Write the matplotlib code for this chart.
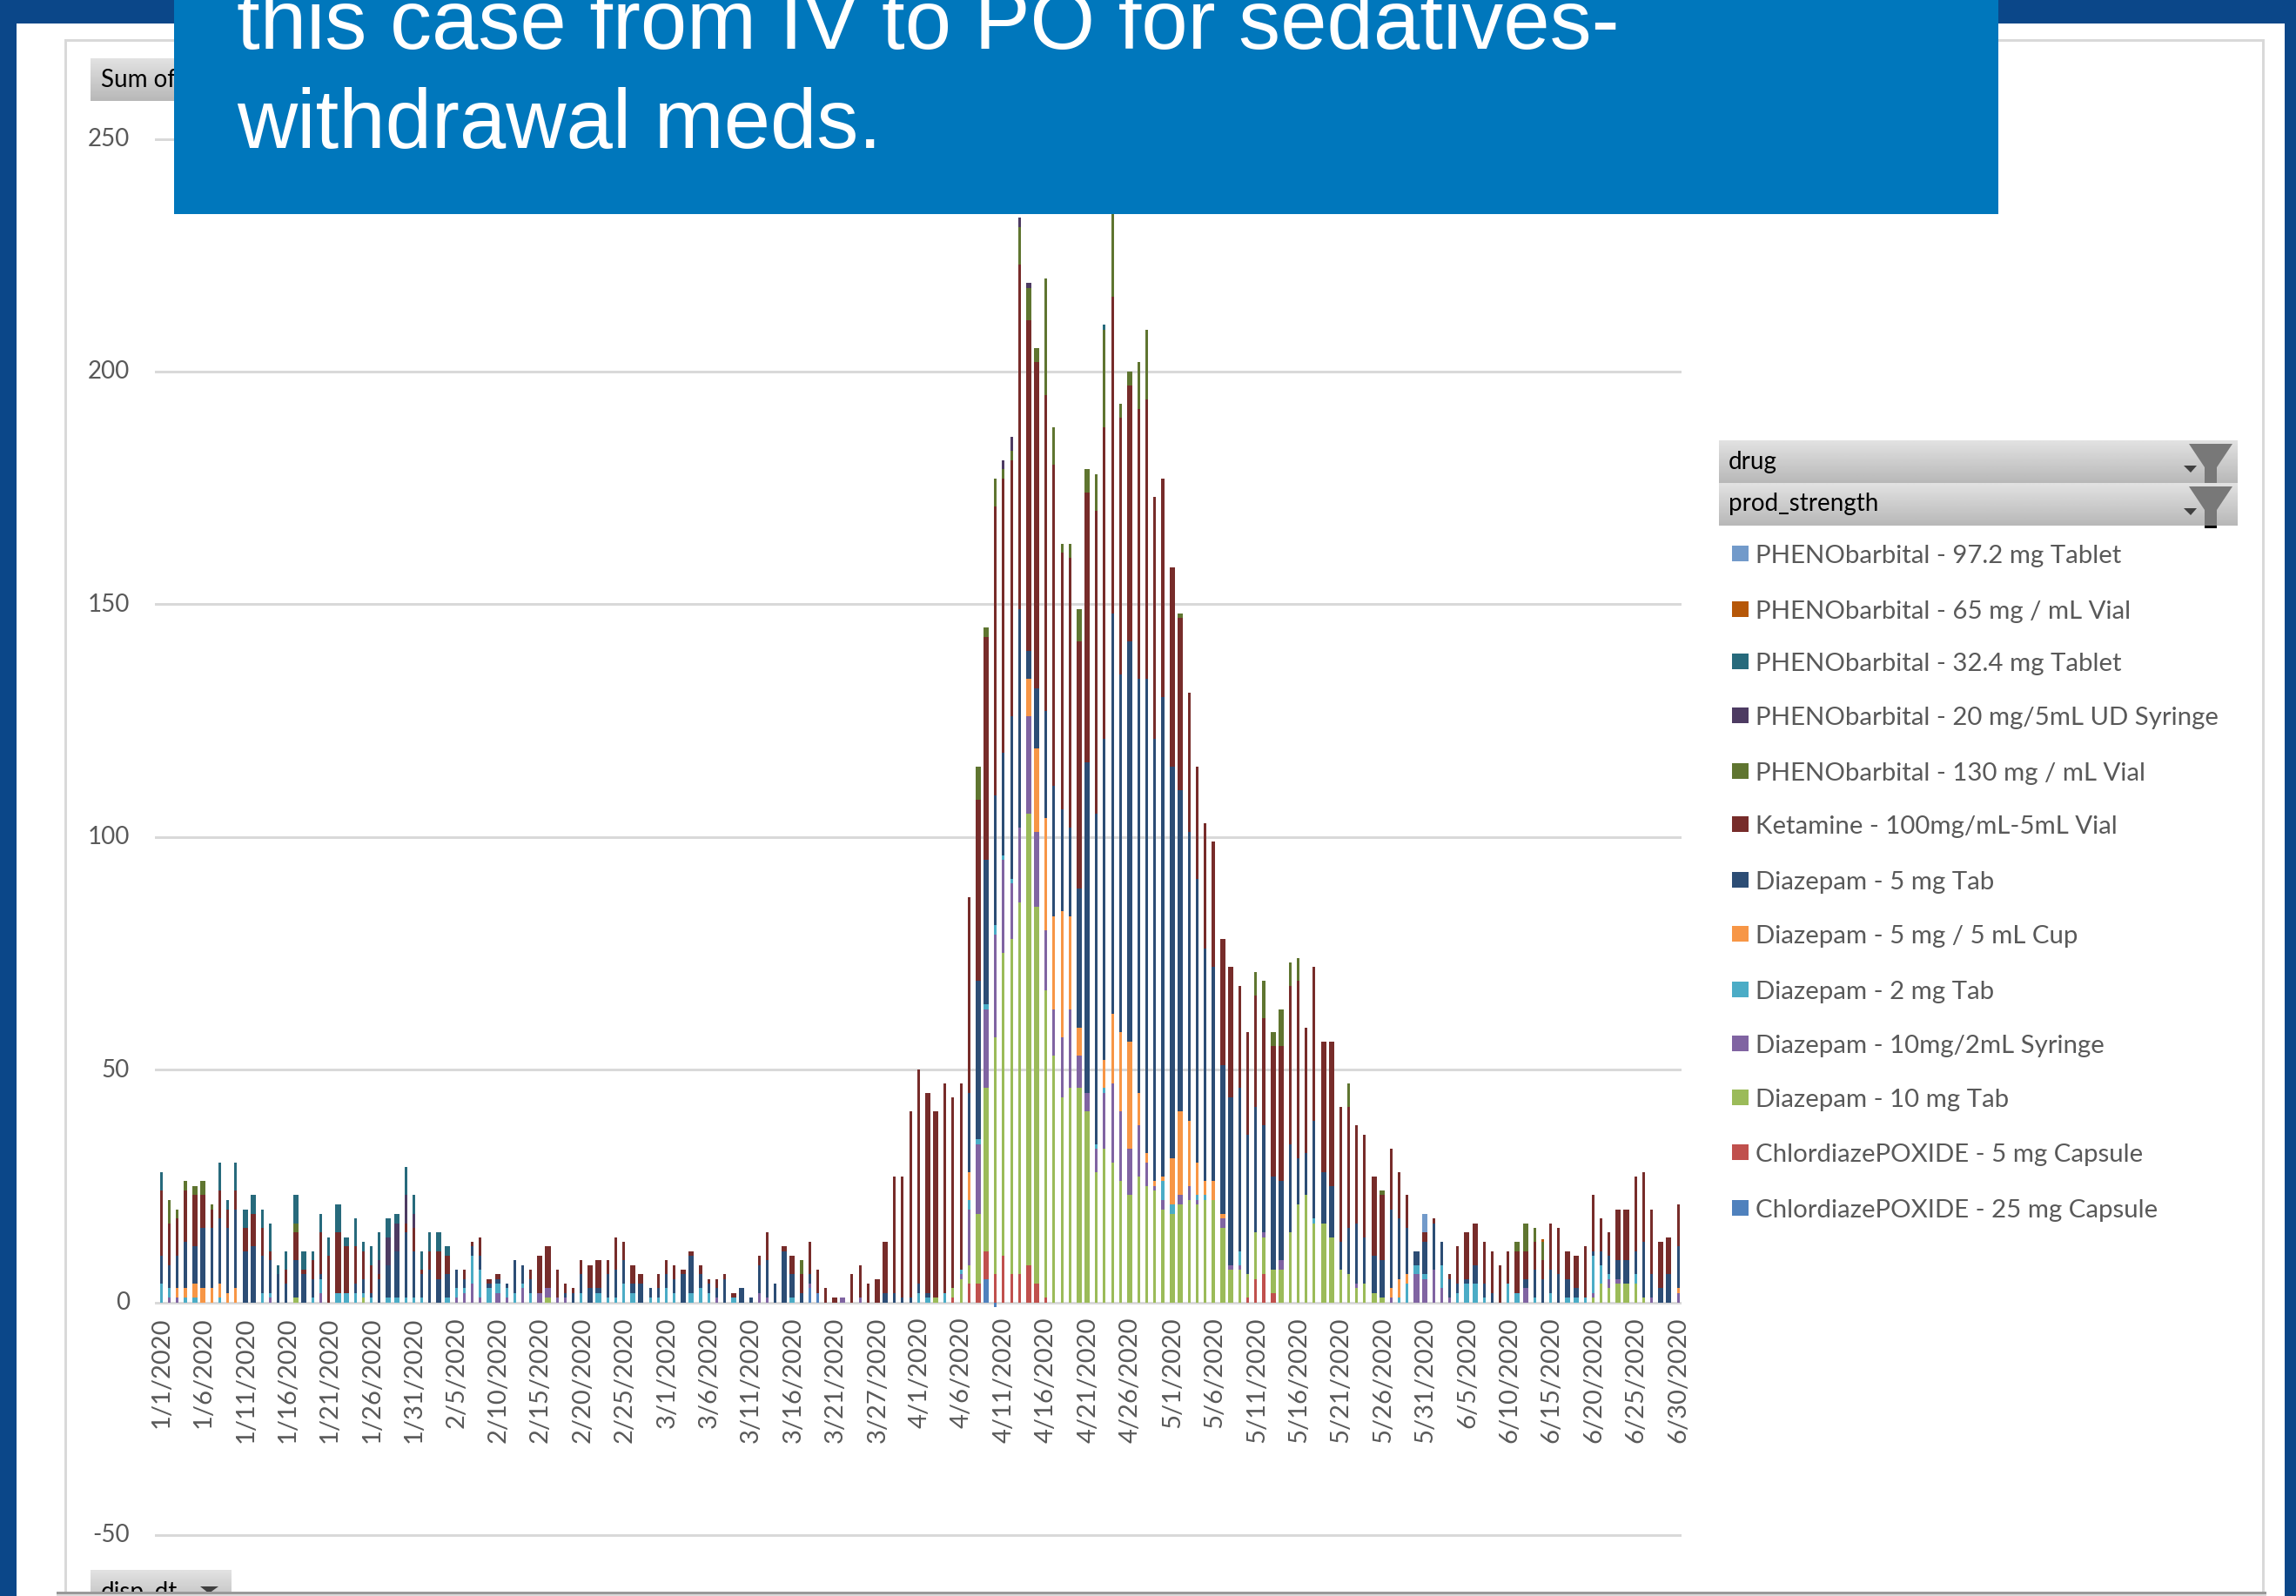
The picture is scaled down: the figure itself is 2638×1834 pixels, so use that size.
import numpy as np
import matplotlib
matplotlib.use("Agg")
import matplotlib.pyplot as plt
from matplotlib.patches import Rectangle
from matplotlib.transforms import ScaledTranslation

W, H = 2638, 1834

# one value per day slot, 181 slots, stacked from the bottom up
chlordiazepoxide_25 = [
    0,0,0,0,0,0,0,0,0,0, 0,0,0,0,0,0,0,0,0,0,
    0,0,0,0,0,0,0,0,0,0, 0,0,0,0,0,0,0,0,0,0,
    0,0,0,0,0,0,0,0,0,0, 0,0,0,0,0,0,0,0,0,0,
    0,0,0,0,0,0,0,0,0,0, 0,0,0,0,0,0,0,3,2,0,
    0,0,0,0,0,0,0,0,0,0, 0,0,0,0,0,0,0,0,5,-1,
    0,0,0,0,0,0,0,0,0,0, 0,0,0,0,0,0,0,0,0,0,
    0,0,0,0,0,0,0,0,0,0, 0,0,0,0,0,0,0,0,0,0,
    0,0,0,0,0,0,0,0,0,0, 0,0,0,0,0,0,0,0,0,0,
    0,0,0,0,0,0,0,0,0,0, 0,0,0,0,0,0,0,0,0,0,
    0]
chlordiazepoxide_5 = [
    0,0,0,0,0,0,0,0,0,0, 0,0,0,0,0,0,0,0,0,0,
    0,0,0,0,0,0,0,0,0,0, 0,0,0,0,0,0,0,0,0,0,
    0,0,0,0,0,0,0,0,0,0, 0,0,0,0,0,0,0,0,0,0,
    0,0,0,0,0,0,0,0,0,0, 0,0,0,0,0,0,0,0,0,0,
    0,0,0,0,0,0,0,0,0,0, 0,0,0,0,1,0,4,4,6,6,
    10,6,6,8,4,1,0,0,0,0, 0,0,0,0,0,0,0,0,0,0,
    0,0,0,0,0,0,0,0,0,1, 5,6,2,0,0,0,0,0,0,0,
    0,0,0,0,0,0,0,0,0,0, 0,0,0,0,0,0,0,0,0,0,
    0,0,0,0,0,0,0,0,0,0, 0,0,0,0,0,0,0,0,0,0,
    0]
diazepam_10_tab = [
    0,0,0,0,0,0,0,0,0,0, 0,0,0,0,0,0,1,0,0,0,
    0,0,0,0,1,0,0,0,0,0, 0,0,0,0,0,0,0,0,0,0,
    0,0,0,0,0,0,1,0,0,0, 0,0,0,0,0,0,0,0,0,0,
    0,0,0,0,0,0,0,0,0,0, 0,0,0,0,0,0,0,0,0,0,
    0,0,0,0,0,0,0,0,0,0, 0,0,1,0,2,5,4,15,35,51,
    65,72,80,97,81,66,53,44,46,46, 41,28,33,30,26,23,27,25,24,20,
    19,21,22,21,22,22,16,7,7,5, 10,8,5,7,15,21,23,17,17,14,
    7,6,3,4,2,1,0,0,0,0, 0,0,0,0,0,0,0,0,0,0,
    0,0,0,0,0,0,0,0,0,0, 1,4,3,4,4,4,1,0,0,0,
    0]
diazepam_10_syringe = [
    0,1,1,0,0,0,0,0,0,0, 0,0,0,1,0,0,0,0,0,2,
    0,0,0,0,0,0,0,0,0,0, 0,0,0,0,0,1,2,4,1,0,
    2,1,0,3,0,2,2,1,1,0, 0,0,0,0,0,0,0,0,0,0,
    0,0,0,0,0,0,1,0,0,0, 0,2,1,0,0,0,0,1,0,0,
    0,1,0,1,0,0,0,0,0,0, 0,0,0,0,0,1,12,15,17,22,
    20,12,16,21,16,13,10,13,17,7, 4,5,12,17,15,10,11,5,1,2,
    0,2,3,1,0,0,2,1,1,0, 0,1,0,2,0,0,0,0,0,0,
    0,0,1,0,0,0,1,0,0,6, 5,7,3,1,0,0,0,0,0,0,
    0,0,3,0,0,0,0,0,0,0, 1,0,2,1,0,0,0,1,0,0,
    2]
diazepam_2_tab = [
    4,2,0,1,1,0,0,1,0,0, 0,0,2,1,0,0,0,0,1,3,
    0,2,2,2,1,1,0,1,1,1, 1,1,0,0,1,2,1,6,6,3,
    2,2,2,1,2,0,0,0,0,0, 2,0,2,1,1,4,2,0,1,1,
    3,2,0,2,3,2,0,0,1,0, 0,0,0,0,0,1,0,0,0,0,
    0,0,0,0,0,0,0,0,0,0, 2,1,0,2,0,1,2,1,1,2,
    1,1,0,0,0,0,0,0,0,0, 0,1,1,0,0,0,0,0,0,4,
    2,0,0,1,1,0,0,0,3,0, 0,0,0,0,0,0,0,1,0,0,
    0,0,0,0,0,0,0,1,4,2, 1,0,5,0,2,4,4,1,0,0,
    4,2,0,1,0,2,0,1,1,1, 8,4,1,0,0,2,0,0,0,0,
    0]
diazepam_5_cup = [
    0,0,2,2,3,3,3,3,2,3, 0,0,0,0,0,0,0,0,0,0,
    0,0,0,0,0,0,0,0,0,0, 0,0,0,0,0,0,0,0,0,0,
    0,0,0,0,0,0,0,0,0,0, 0,0,0,0,0,0,0,0,0,0,
    0,0,0,0,0,0,0,0,0,0, 0,0,0,0,0,0,0,0,0,0,
    0,0,0,0,0,0,0,0,0,0, 0,0,0,0,0,0,6,0,0,0,
    0,0,0,8,18,24,20,27,20,6, 0,0,6,15,17,23,7,2,1,1,
    10,18,14,7,3,4,1,0,0,0, 0,0,0,0,0,0,0,0,0,0,
    0,0,0,0,0,0,2,4,2,0, 0,0,0,0,0,0,0,0,0,0,
    0,0,0,0,0,0,0,0,0,0, 0,0,0,0,0,0,0,0,0,0,
    1]
diazepam_5_tab = [
    6,5,7,10,8,13,13,14,14,17, 11,12,8,7,6,4,8,6,4,1,
    0,0,0,2,3,1,5,7,10,14, 10,5,7,5,5,4,2,2,3,1,
    1,1,7,4,3,0,0,0,1,2, 4,3,1,5,6,5,2,4,2,2,
    3,3,6,8,3,2,2,5,0,3, 1,6,8,4,11,5,2,2,0,0,
    0,0,0,0,0,0,2,2,1,1, 2,1,0,0,0,0,17,34,31,28,
    22,35,47,6,13,23,28,22,19,30, 71,71,69,86,77,86,89,102,95,103,
    84,69,62,61,50,46,32,36,35,30, 27,23,20,17,19,10,9,21,11,11,
    6,10,13,10,8,8,17,13,10,3, 7,10,5,4,2,1,4,3,2,0,
    0,0,2,6,5,5,6,4,2,0, 1,3,4,4,5,5,12,5,3,6,
    9]
ketamine = [
    14,9,8,11,11,7,4,6,4,4, 5,7,6,2,0,3,6,1,4,9,
    10,13,10,8,6,6,1,0,0,2, 5,1,4,6,4,0,2,1,4,1,
    1,0,0,0,2,8,9,6,2,1, 3,5,6,3,7,4,4,2,0,3,
    3,3,1,1,2,1,2,1,1,0, 0,2,6,0,1,4,4,7,5,3,
    1,0,6,7,4,5,11,25,26,40, 46,43,40,45,41,40,42,39,48,62,
    59,55,74,71,70,68,69,55,58,53, 58,65,67,68,55,55,58,60,52,47,
    43,37,30,24,27,27,27,28,22,22, 24,23,28,29,34,38,27,33,28,31,
    29,26,21,22,17,14,13,10,7,0, 2,1,0,1,8,10,9,9,9,8,
    7,9,6,6,4,10,10,6,7,11, 12,7,5,11,11,16,15,14,10,8,
    9]
phenobarbital_130 = [
    0,5,2,2,2,3,1,0,0,0, 0,0,0,0,0,0,2,0,0,0,
    0,0,0,0,0,0,0,0,0,0, 0,0,0,0,0,0,0,0,0,0,
    0,0,0,0,0,0,0,0,0,0, 0,0,0,0,0,0,0,0,0,0,
    0,0,0,0,0,0,0,0,0,0, 0,0,0,0,0,0,3,0,0,0,
    0,0,0,0,0,0,0,0,0,0, 0,0,0,0,0,0,0,7,2,6,
    2,2,8,7,3,25,8,2,3,7, 5,8,21,20,3,3,10,15,0,0,
    0,1,0,0,0,0,0,0,0,0, 5,8,3,8,5,5,0,0,0,0,
    0,5,0,0,0,1,0,0,0,0, 0,0,0,0,0,0,0,0,0,0,
    0,2,6,3,4,0,0,0,0,0, 0,0,0,0,0,0,0,0,0,0,
    0]
phenobarbital_20 = [
    0,0,0,0,0,0,0,0,0,0, 0,0,0,0,0,0,0,0,0,0,
    0,0,0,0,0,0,3,6,6,6, 3,0,0,0,0,0,0,0,0,0,
    0,0,0,0,0,0,0,0,0,0, 0,0,0,0,0,0,0,0,0,0,
    0,0,0,0,0,0,0,0,0,0, 0,0,0,0,0,0,0,0,0,0,
    0,0,0,0,0,0,0,0,0,0, 0,0,0,0,0,0,0,0,0,0,
    2,3,2,1,0,0,0,0,0,0, 0,0,0,0,0,0,0,0,0,0,
    0,0,0,0,0,0,0,0,0,0, 0,0,0,0,0,0,0,0,0,0,
    0,0,0,0,0,0,0,0,0,0, 0,0,0,0,0,0,0,0,0,0,
    0,0,0,0,0,0,0,0,0,0, 0,0,0,0,0,0,0,0,0,0,
    0]
phenobarbital_32 = [
    4,0,0,0,0,0,0,6,2,6, 4,4,4,6,2,4,6,4,2,4,
    4,6,2,6,2,4,6,4,2,6, 4,4,4,4,2,0,0,0,0,0,
    0,0,0,0,0,0,0,0,0,0, 0,0,0,0,0,0,0,0,0,0,
    0,0,0,0,0,0,0,0,0,0, 0,0,0,0,0,0,0,0,0,0,
    0,0,0,0,0,0,0,0,0,0, 0,0,0,0,0,0,0,0,0,0,
    0,0,0,0,0,0,0,0,0,0, 0,0,1,0,0,0,0,0,0,0,
    0,0,0,0,0,0,0,0,0,0, 0,0,0,0,0,0,0,0,0,0,
    0,0,0,0,0,0,0,0,0,0, 0,0,0,0,0,0,0,0,0,0,
    0,0,0,0,0,0,0,0,0,0, 0,0,0,0,0,0,0,0,0,0,
    0]
phenobarbital_65 = [
    0,0,0,0,0,0,0,0,0,0, 0,0,0,0,0,0,0,0,0,0,
    0,0,0,0,0,0,0,0,0,0, 0,0,0,0,0,0,0,0,0,0,
    0,0,0,0,0,0,0,0,0,0, 0,0,0,0,0,0,0,0,0,0,
    0,0,0,0,0,0,0,0,0,0, 0,0,0,0,0,0,0,0,0,0,
    0,0,0,0,0,0,0,0,0,0, 0,0,0,0,0,0,0,0,0,0,
    0,0,0,0,0,0,0,0,0,0, 0,0,0,0,0,0,0,0,0,0,
    0,0,0,0,0,0,0,0,0,0, 0,0,0,0,0,0,0,0,0,0,
    0,0,0,0,0,0,0,0,0,0, 0,0,0,0,0,0,0,0,0,0,
    0,0,0,0,0.5,0,0,0,0,0, 0,0,0,0,0,0,0,0,0,0,
    0]
phenobarbital_97 = [
    0,0,0,0,0,0,0,0,0,0, 0,0,0,0,0,0,0,0,0,0,
    0,0,0,0,0,0,0,0,0,0, 0,0,0,0,0,0,0,0,0,0,
    0,0,0,0,0,0,0,0,0,0, 0,0,0,0,0,0,0,0,0,0,
    0,0,0,0,0,0,0,0,0,0, 0,0,0,0,0,0,0,0,0,0,
    0,0,0,0,0,0,0,0,0,0, 0,0,0,0,0,0,0,0,0,0,
    0,0,0,0,0,0,0,0,0,0, 0,0,0,0,0,0,0,0,0,0,
    0,0,0,0,0,0,0,0,0,0, 0,0,0,0,0,0,0,0,0,0,
    0,0,0,0,0,0,0,0,0,0, 4,0,0,0,0,0,0,0,0,0,
    0,0,0,0,0,0,0,0,0,0, 0,0,0,0,0,0,0,0,0,0,
    0]

# bottom of the stack first
stack = [
    ("ChlordiazePOXIDE - 25 mg Capsule", chlordiazepoxide_25, "#4F81BD"),
    ("ChlordiazePOXIDE - 5 mg Capsule", chlordiazepoxide_5, "#C0504D"),
    ("Diazepam - 10 mg Tab", diazepam_10_tab, "#9BBB59"),
    ("Diazepam - 10mg/2mL Syringe", diazepam_10_syringe, "#8064A2"),
    ("Diazepam - 2 mg Tab", diazepam_2_tab, "#4BACC6"),
    ("Diazepam - 5 mg / 5 mL Cup", diazepam_5_cup, "#F79646"),
    ("Diazepam - 5 mg Tab", diazepam_5_tab, "#2C4D75"),
    ("Ketamine - 100mg/mL-5mL Vial", ketamine, "#772C2A"),
    ("PHENObarbital - 130 mg / mL Vial", phenobarbital_130, "#5F7530"),
    ("PHENObarbital - 20 mg/5mL UD Syringe", phenobarbital_20, "#4D3B62"),
    ("PHENObarbital - 32.4 mg Tablet", phenobarbital_32, "#276A7C"),
    ("PHENObarbital - 65 mg / mL Vial", phenobarbital_65, "#B65708"),
    ("PHENObarbital - 97.2 mg Tablet", phenobarbital_97, "#729ACA"),
]

date_labels = ["1/1/2020", "1/6/2020", "1/11/2020", "1/16/2020", "1/21/2020", "1/26/2020",
               "1/31/2020", "2/5/2020", "2/10/2020", "2/15/2020", "2/20/2020", "2/25/2020",
               "3/1/2020", "3/6/2020", "3/11/2020", "3/16/2020", "3/21/2020", "3/27/2020",
               "4/1/2020", "4/6/2020", "4/11/2020", "4/16/2020", "4/21/2020", "4/26/2020",
               "5/1/2020", "5/6/2020", "5/11/2020", "5/16/2020", "5/21/2020", "5/26/2020",
               "5/31/2020", "6/5/2020", "6/10/2020", "6/15/2020", "6/20/2020", "6/25/2020",
               "6/30/2020"]
y_ticks = [-50, 0, 50, 100, 150, 200, 250]

legend_rows_y = [639, 703, 763, 825, 889, 950, 1014, 1076, 1140, 1202, 1264, 1327, 1391]

plt.rcParams["font.family"] = ["Lato", "DejaVu Sans"]
TXT = "#595959"
GRID = "#D9D9D9"
NAVY = "#0B4789"
BOX = "#0077BC"

fig = plt.figure(figsize=(W / 100, H / 100), dpi=100, facecolor="white")


def px_axes(left, top, right, bottom, z):
    return fig.add_axes([left / W, 1 - bottom / H, (right - left) / W, (bottom - top) / H], zorder=z)


# slide background and chart frame
bg = px_axes(0, 0, W, H, 0)
bg.set_xlim(0, W)
bg.set_ylim(H, 0)
bg.axis("off")
bg.add_patch(Rectangle((0, 0), W, H, fc=NAVY, ec="none"))
bg.add_patch(Rectangle((19, 27), 2625 - 19, H, fc="white", ec="none"))
bg.add_patch(Rectangle((75, 46), 2598 + 1.5 - 75, 1800, fc="white", ec=GRID, lw=2.16))

# chart, mapped so that slot i sits at 185.5 + 9.68 i and value v at 1496.5 - 5.348 v
X0, DX = 185.5, 9.68
Y0, DY = 1496.5, 5.348
ax_l, ax_r, ax_t, ax_b = 178, 1932, 150, 1775
ax = px_axes(ax_l, ax_t, ax_r, ax_b, 1)
ax.patch.set_alpha(0)
ax.set_xlim((ax_l - X0) / DX, (ax_r - X0) / DX)
ax.set_ylim((Y0 - ax_b) / DY, (Y0 - ax_t) / DY)
for s in ["top", "right", "left", "bottom"]:
    ax.spines[s].set_visible(False)
# moving the spine resets the ticks, so this comes before the labels
ax.spines["bottom"].set_position(("data", 0))

n = len(ketamine)
slots = np.arange(n)
# the screenshot was blown up 3x from a low-res render, so bars fall on a coarse pixel grid
src = slots * 3.172 + 0.05
grid_px = DX / 3.172
left_px = 184 + np.floor(src) * grid_px
right_px = 184 + np.floor(src + 1.34) * grid_px
lefts = (left_px - X0) / DX
widths = (right_px - left_px) / DX

pos = np.zeros(n)
for name, vals, col in stack:
    vals = np.array(vals, dtype=float)
    up = np.clip(vals, 0, None)
    down = np.clip(vals, None, 0)
    ax.bar(lefts, up, widths, bottom=pos, align="edge", color=col, lw=0, zorder=3)
    ax.bar(lefts, down, widths, align="edge", color=col, lw=0, zorder=3)
    pos += up

ax.tick_params(axis="both", length=0)
ax.tick_params(axis="y", pad=21)
ax.tick_params(axis="x", pad=12)
ax.set_yticks(y_ticks)
ax.set_yticklabels([str(v) for v in y_ticks], color=TXT, fontsize=20)
ax.set_xticks(slots[::5])
ax.set_xticklabels(date_labels, rotation=90, color=TXT, fontsize=21)
ax.grid(axis="y", color=GRID, lw=2.16)
ax.set_axisbelow(True)
nudge = ScaledTranslation(0, 2 / 100, fig.dpi_scale_trans)
for lab in ax.get_yticklabels():
    lab.set_transform(lab.get_transform() + nudge)

# everything drawn over the chart
top = px_axes(0, 0, W, H, 2)
top.patch.set_alpha(0)
top.axis("off")
shades = np.linspace(0.885, 0.72, 64).reshape(-1, 1)


def button(x0, y0, x1, y1, label, tx, ty, funnel=False):
    top.imshow(shades, extent=(x0, x1, y1, y0), aspect="auto", cmap="gray", vmin=0, vmax=1, zorder=2)
    top.text(tx, ty, label, fontsize=20, color="black", va="baseline", ha="left", zorder=3)
    if funnel:
        top.fill([x1 - 56, x1 - 6, x1 - 24, x1 - 24, x1 - 38, x1 - 38],
                 [y0 + 4, y0 + 4, y0 + 31, y1, y1, y0 + 31], color="#787878", lw=0, zorder=3)
        top.fill([x1 - 62, x1 - 47, x1 - 54], [y0 + 29, y0 + 29, y0 + 37], color="#404040", lw=0, zorder=4)


button(104, 67, 205, 116, "Sum of", 116, 100)
button(1975, 506, 2571, 555, "drug", 1986, 539, funnel=True)
button(1975, 555, 2571, 604, "prod_strength", 1986, 587, funnel=True)
top.add_patch(Rectangle((2533, 604), 14, 3, fc="black", ec="none", zorder=4))
button(104, 1804, 266, 1850, "disp_dt", 116, 1838)
top.fill([230, 251, 240], [1823, 1823, 1831], color="#404040", lw=0, zorder=4)

# legend runs top down, reverse of the stack
for (name, vals, col), yy in zip(stack[::-1], legend_rows_y):
    top.add_patch(Rectangle((1990, yy - 12), 19, 18, fc=col, ec="none", zorder=3))
    top.text(2017, yy, name, fontsize=21.2, color=TXT, va="center", ha="left", zorder=3)

# bottom edge of the slide crop, hides the lower part of the disp_dt button
top.add_patch(Rectangle((19, 1829), 2606, 5, fc="white", ec="none", zorder=5))
top.add_patch(Rectangle((65, 1829), 2604 - 65, 3, fc="#999999", ec="none", zorder=6))
top.add_patch(Rectangle((65, 1832), 2604 - 65, 2, fc=GRID, ec="none", zorder=6))

# callout box over the chart
top.add_patch(Rectangle((200, -5), 2296 - 200, 251, fc=BOX, ec="none", zorder=8))
top.text(272, 56, "this case from IV to PO for sedatives-", fontsize=69, family=["Liberation Sans"],
         color="white", va="baseline", ha="left", zorder=9)
top.text(272, 170, "withdrawal meds.", fontsize=69, family=["Liberation Sans"],
         color="white", va="baseline", ha="left", zorder=9)

top.set_xlim(0, W)
top.set_ylim(H, 0)

fig.savefig("out.png", dpi=100, facecolor="white")
